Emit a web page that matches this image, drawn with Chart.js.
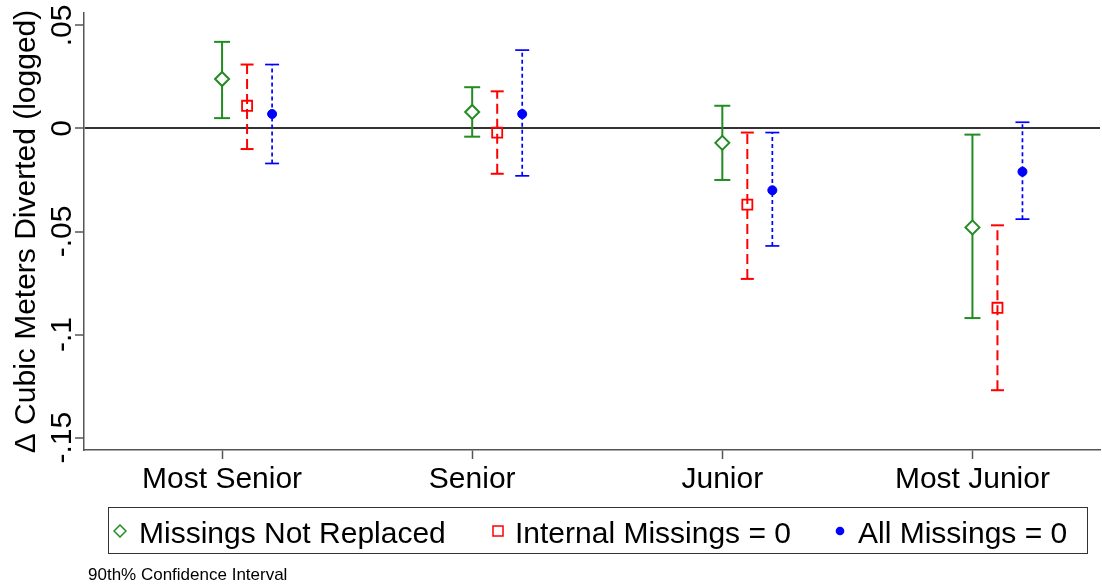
<!DOCTYPE html>
<html>
<head>
<meta charset="utf-8">
<script src="https://cdn.jsdelivr.net/npm/chart.js@4"></script>
<style>
  html, body { margin: 0; padding: 0; background: #fff; }
  #wrap { position: relative; width: 1102px; height: 588px; font-family: "Liberation Sans", Arial, sans-serif; }
  #legend {
    position: absolute; left: 108px; top: 507px; width: 980px; height: 47px;
    box-sizing: border-box; border: 1px solid #333;
    display: flex; align-items: center; font-size: 30px; color: #000;
  }
  #legend .item { position: absolute; top: 0; height: 45px; display: flex; align-items: center; }
  #legend .item span { line-height: 30px; padding-top: 4px; white-space: nowrap; }
  #legend svg { display: block; }
  #note { position: absolute; left: 88px; top: 566px; font-size: 17px; line-height: 17px; color: #000; white-space: nowrap; }
</style>
</head>
<body>
<div id="wrap">
  <canvas id="myChart" width="1102" height="588"></canvas>
  <div id="legend"></div>
  <div id="note"></div>
</div>
<script>
// categories and estimates with 90% CI bounds
let categories = ["Most Senior", "Senior", "Junior", "Most Junior"];
let seriesNames = ["Missings Not Replaced", "Internal Missings = 0", "All Missings = 0"];

let notReplacedEst = [0.024, 0.008, -0.007, -0.048];
let notReplacedLo = [0.005, -0.004, -0.025, -0.092];
let notReplacedHi = [0.042, 0.020, 0.011, -0.003];

let internalEst = [0.011, -0.002, -0.037, -0.087];
let internalLo = [-0.010, -0.022, -0.073, -0.127];
let internalHi = [0.031, 0.018, -0.002, -0.047];

let allEst = [0.007, 0.007, -0.030, -0.021];
let allLo = [-0.017, -0.023, -0.057, -0.044];
let allHi = [0.031, 0.038, -0.002, 0.003];

let yTicks = [-0.15, -0.1, -0.05, 0, 0.05];
let yTitle = "\u0394 Cubic Meters Diverted (logged)";
let footnote = "90th% Confidence Interval";

// styling per series
let green = "rgb(34,139,34)";
let red = "#ff0000";
let blue = "#0000ff";
let styles = [
	{ color: green, offset: 0, dash: [], cap: 8, width: 2, marker: "rectRot", radius: 7, fill: "#fff", mWidth: 2 },
	{ color: red, offset: 0.1, dash: [10, 5], cap: 6.5, width: 2, marker: "rect", radius: 7.1, fill: "rgba(0,0,0,0)", mWidth: 1.8 },
	{ color: blue, offset: 0.2, dash: [4, 3], cap: 7, width: 1.7, marker: "circle", radius: 4.5, fill: blue, mWidth: 1 }
];
let series = [
	[notReplacedEst, notReplacedLo, notReplacedHi],
	[internalEst, internalLo, internalHi],
	[allEst, allLo, allHi]
];

Chart.defaults.font.family = "'Liberation Sans', Arial, sans-serif";
Chart.defaults.color = "#000";

function fmtTick(v) {
	if (v === 0) return "0";
	return String(v).replace("0.", ".");
}

let datasets = [];
// markers first so they sit on top
series.forEach(function(s, k) {
	let st = styles[k];
	datasets.push({
		type: "scatter",
		label: seriesNames[k],
		data: categories.map(function(c, i) { return { x: i + 1 + st.offset, y: s[0][i] }; }),
		pointStyle: st.marker,
		pointRadius: st.radius,
		pointBorderColor: st.color,
		pointBackgroundColor: st.fill,
		pointBorderWidth: st.mWidth
	});
});
series.forEach(function(s, k) {
	let st = styles[k];
	let pts = [];
	categories.forEach(function(c, i) {
		let x = i + 1 + st.offset;
		pts.push({ x: x, y: s[1][i] });
		pts.push({ x: x, y: s[2][i] });
		pts.push({ x: x, y: null });
	});
	datasets.push({
		type: "line",
		label: seriesNames[k] + " CI",
		data: pts,
		spanGaps: false,
		borderColor: st.color,
		borderWidth: st.width,
		borderDash: st.dash,
		pointStyle: "line",
		pointRadius: st.cap,
		pointBorderColor: st.color,
		pointBorderWidth: st.width,
		tension: 0
	});
});

const yTickLabels = {
	id: "yTickLabels",
	afterDraw(chart) {
		let y = chart.scales.y;
		let ctx = chart.ctx;
		ctx.save();
		ctx.font = "30px 'Liberation Sans', Arial, sans-serif";
		ctx.fillStyle = "#000";
		ctx.textAlign = "center";
		ctx.textBaseline = "alphabetic";
		y.ticks.forEach(function(t) {
			ctx.save();
			ctx.translate(y.right - 13, y.getPixelForValue(t.value));
			ctx.rotate(-Math.PI / 2);
			ctx.fillText(fmtTick(t.value), 0, 0);
			ctx.restore();
		});
		ctx.restore();
	}
};

let config = {
	type: "scatter",
	data: { datasets: datasets },
	options: {
		responsive: false,
		animation: false,
		events: [],
		layout: { autoPadding: false, padding: { top: 13, right: 2, bottom: 88, left: 0 } },
		plugins: { legend: { display: false }, tooltip: { enabled: false } },
		scales: {
			x: {
				type: "linear",
				min: 0.448,
				max: 4.51,
				afterBuildTicks: function(scale) {
					scale.ticks = categories.map(function(c, i) { return { value: i + 1 }; });
				},
				afterFit: function(scale) { scale.height = 50; },
				ticks: {
					autoSkip: false,
					maxRotation: 0,
					padding: 3,
					font: { size: 30 },
					color: "#000",
					callback: function(v) { return categories[Math.round(v) - 1]; }
				},
				grid: { drawOnChartArea: false, tickLength: 9, tickColor: "#555", tickWidth: 1.5 },
				border: { display: true, color: "#555", width: 1.5 }
			},
			y: {
				min: -0.156,
				max: 0.056,
				afterBuildTicks: function(scale) {
					scale.ticks = yTicks.map(function(v) { return { value: v }; });
				},
				afterFit: function(scale) { scale.width = 84; },
				ticks: { display: false },
				title: {
					display: true,
					text: yTitle,
					font: { size: 30 },
					color: "#000",
					padding: { top: 9, bottom: 0 }
				},
				grid: {
					drawOnChartArea: true,
					color: function(c) { return c.tick && c.tick.value === 0 ? "#333" : "rgba(0,0,0,0)"; },
					lineWidth: 2,
					tickLength: 9,
					tickColor: "#555",
					tickWidth: 1.5
				},
				border: { display: true, color: "#555", width: 1.5 }
			}
		}
	},
	plugins: [yTickLabels]
};

let chart = new Chart("myChart", config);

// legend in html, built from the series names and styles
let markerSvg = [
	'<svg width="14" height="14"><polygon points="7,1 13,7 7,13 1,7" fill="none" stroke="' + green + '" stroke-width="1.5"/></svg>',
	'<svg width="14" height="14"><rect x="2" y="2" width="10" height="10" fill="none" stroke="' + red + '" stroke-width="1.5"/></svg>',
	'<svg width="14" height="14"><circle cx="7" cy="7" r="4.3" fill="' + blue + '"/></svg>'
];
let legendLeft = [4, 382, 724];
let legendGap = [12, 10, 11];
let legend = document.getElementById("legend");
seriesNames.forEach(function(name, k) {
	let item = document.createElement("div");
	item.className = "item";
	item.style.left = legendLeft[k] + "px";
	item.innerHTML = markerSvg[k];
	let span = document.createElement("span");
	span.style.marginLeft = legendGap[k] + "px";
	span.textContent = name;
	item.appendChild(span);
	legend.appendChild(item);
});
document.getElementById("note").textContent = footnote;
</script>
</body>
</html>
